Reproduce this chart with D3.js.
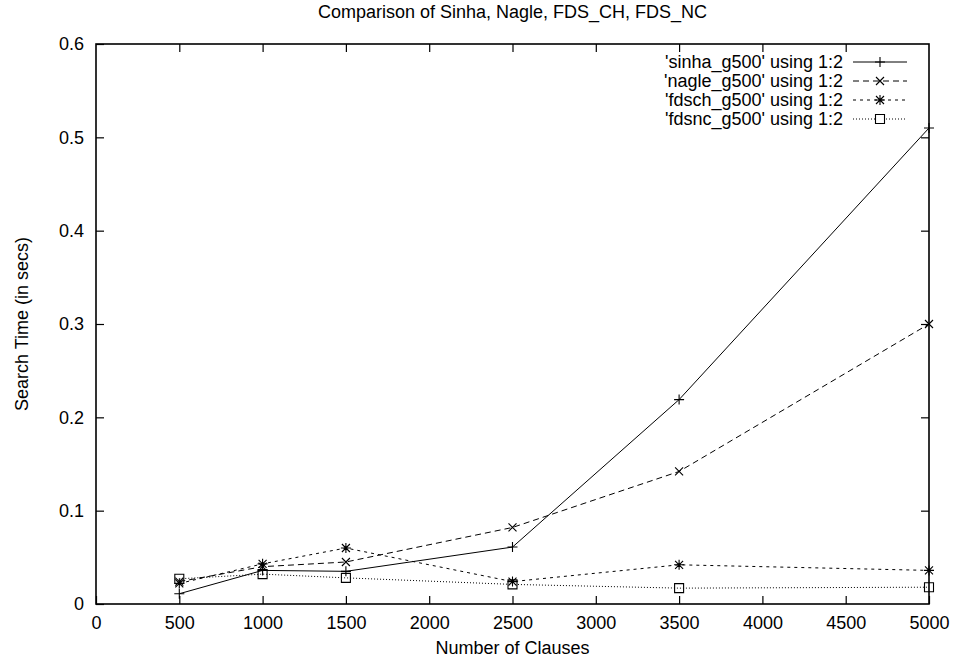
<!DOCTYPE html>
<html>
<head>
<meta charset="utf-8">
<script src="https://cdn.jsdelivr.net/npm/d3@7"></script>
<style>
  body { margin: 0; background: #fff; }
  svg text { font-family: "Liberation Sans", Arial, sans-serif; fill: #000; }
</style>
</head>
<body>
<svg id="chart" width="956" height="665"></svg>
<script>
// data
var clauses = [500, 1000, 1500, 2500, 3500, 5000];
var sinha = [0.011, 0.036, 0.035, 0.061, 0.219, 0.510];
var nagle = [0.024, 0.040, 0.045, 0.082, 0.142, 0.300];
var fdsch = [0.022, 0.043, 0.060, 0.024, 0.042, 0.036];
var fdsnc = [0.027, 0.032, 0.028, 0.021, 0.017, 0.018];
var seriesNames = ["'sinha_g500' using 1:2", "'nagle_g500' using 1:2", "'fdsch_g500' using 1:2", "'fdsnc_g500' using 1:2"];
var xTicks = [0, 500, 1000, 1500, 2000, 2500, 3000, 3500, 4000, 4500, 5000];
var yTicks = [0, 0.1, 0.2, 0.3, 0.4, 0.5, 0.6];

var width = 956, height = 665,
  margin = {top: 44, right: 27, bottom: 61, left: 96},
  fontSize = 18;

var svg = d3.select('#chart');

var series = [
  {name: seriesNames[0], values: sinha, dash: null, marker: 'plus'},
  {name: seriesNames[1], values: nagle, dash: '6,4', marker: 'cross'},
  {name: seriesNames[2], values: fdsch, dash: '3,4', marker: 'star'},
  {name: seriesNames[3], values: fdsnc, dash: '1,2', marker: 'square'}
];

var xScale = d3.scaleLinear()
  .domain([0, 5000])
  .range([margin.left, width - margin.right]);
var yScale = d3.scaleLinear()
  .domain([0, 0.6])
  .range([height - margin.bottom, margin.top]);

// axes, ticks pointing inwards like gnuplot
svg.append('g')
  .attr('transform', 'translate(0,' + (height - margin.bottom) + ')')
  .call(d3.axisBottom(xScale).tickValues(xTicks).tickSize(-8).tickPadding(12).tickFormat(d3.format('d')))
  .call(g => g.select('.domain').remove())
  .attr('font-size', fontSize);
svg.append('g')
  .attr('transform', 'translate(' + margin.left + ',0)')
  .call(d3.axisLeft(yScale).tickValues(yTicks).tickSize(-8).tickPadding(12).tickFormat(d => d === 0 ? '0' : d3.format('.1f')(d)))
  .call(g => g.select('.domain').remove())
  .attr('font-size', fontSize);
svg.append('g')
  .attr('transform', 'translate(0,' + margin.top + ')')
  .call(d3.axisTop(xScale).tickValues(xTicks.slice(1, -1)).tickSize(-8).tickFormat(''))
  .call(g => g.select('.domain').remove());
svg.append('g')
  .attr('transform', 'translate(' + (width - margin.right) + ',0)')
  .call(d3.axisRight(yScale).tickValues(yTicks.slice(1, -1)).tickSize(-8).tickFormat(''))
  .call(g => g.select('.domain').remove());

svg.selectAll('.tick line').attr('stroke', '#000').attr('stroke-width', 1.2);

// plot border
svg.append('rect')
  .attr('x', margin.left)
  .attr('y', margin.top)
  .attr('width', width - margin.left - margin.right)
  .attr('height', height - margin.top - margin.bottom)
  .attr('fill', 'none')
  .attr('stroke', '#000')
  .attr('stroke-width', 1.6);

// titles
svg.append('text')
  .attr('x', (margin.left + width - margin.right) / 2)
  .attr('y', 18)
  .attr('text-anchor', 'middle')
  .attr('font-size', fontSize)
  .text('Comparison of Sinha, Nagle, FDS_CH, FDS_NC');
svg.append('text')
  .attr('x', (margin.left + width - margin.right) / 2)
  .attr('y', 654)
  .attr('text-anchor', 'middle')
  .attr('font-size', fontSize)
  .text('Number of Clauses');
svg.append('text')
  .attr('transform', 'rotate(-90)')
  .attr('x', -(margin.top + height - margin.bottom) / 2)
  .attr('y', 28)
  .attr('text-anchor', 'middle')
  .attr('font-size', fontSize)
  .text('Search Time (in secs)');

// marker shapes
function markerPath(type, x, y) {
  var s = 5;
  if (type == 'plus') return 'M' + (x - s) + ',' + y + 'H' + (x + s) + 'M' + x + ',' + (y - s) + 'V' + (y + s);
  if (type == 'cross') return 'M' + (x - 4) + ',' + (y - 4) + 'L' + (x + 4) + ',' + (y + 4) + 'M' + (x - 4) + ',' + (y + 4) + 'L' + (x + 4) + ',' + (y - 4);
  if (type == 'star') return markerPath('plus', x, y) + markerPath('cross', x, y);
  return 'M' + (x - 4.5) + ',' + (y - 4.5) + 'h9v9h-9Z';
}

var line = d3.line()
  .x(function(d, i) { return xScale(clauses[i]); })
  .y(function(d) { return yScale(d); });

var plots = svg.selectAll('.series')
  .data(series)
  .enter()
  .append('g')
  .attr('class', 'series');

plots.append('path')
  .attr('d', function(d) { return line(d.values); })
  .attr('fill', 'none')
  .attr('stroke', '#000')
  .attr('stroke-width', 1)
  .attr('stroke-dasharray', function(d) { return d.dash; });

plots.append('path')
  .attr('d', function(d) {
    return d.values.map(function(v, i) { return markerPath(d.marker, xScale(clauses[i]), yScale(v)); }).join('');
  })
  .attr('fill', 'none')
  .attr('stroke', '#000')
  .attr('stroke-width', 1.1);

// legend
var legendRight = 843, sampleX0 = 853, sampleX1 = 907;
var legend = svg.selectAll('.legend')
  .data(series)
  .enter()
  .append('g')
  .attr('class', 'legend')
  .attr('transform', function(d, i) { return 'translate(0,' + (62 + i * 19) + ')'; });

legend.append('text')
  .attr('x', legendRight)
  .attr('y', 6)
  .attr('text-anchor', 'end')
  .attr('font-size', fontSize)
  .text(function(d) { return d.name; });
legend.append('line')
  .attr('x1', sampleX0)
  .attr('x2', sampleX1)
  .attr('stroke', '#000')
  .attr('stroke-width', 1)
  .attr('stroke-dasharray', function(d) { return d.dash; });
legend.append('path')
  .attr('d', function(d) { return markerPath(d.marker, (sampleX0 + sampleX1) / 2, 0); })
  .attr('fill', d => d.marker == 'square' ? '#fff' : 'none')
  .attr('stroke', '#000')
  .attr('stroke-width', 1.1);
</script>
</body>
</html>
